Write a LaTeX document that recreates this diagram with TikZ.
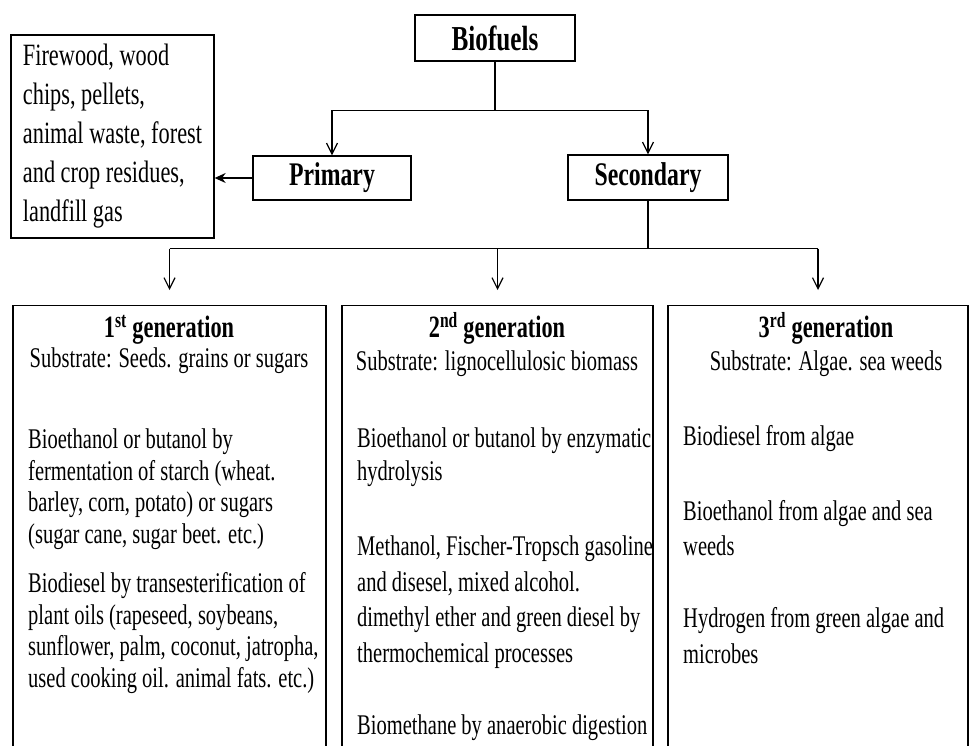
\documentclass[tikz,border=0pt]{standalone}
\usepackage{fontspec}
\setmainfont{Liberation Serif}[FakeStretch=0.72]
\usetikzlibrary{arrows.meta}

\tikzset{
  box/.style={draw, line width=1.3pt, inner sep=0pt, font=\bfseries\fontsize{33}{38}\selectfont},
  srcbox/.style={draw, line width=1.3pt, align=left, minimum width=203pt, minimum height=203pt,
    inner sep=0pt, font=\fontsize{31}{39}\selectfont},
  genbox/.style={draw, line width=1.2pt, anchor=north, minimum height=480pt, inner sep=0pt},
  genhead/.style={anchor=base, inner sep=0pt, font=\bfseries\fontsize{31}{36}\selectfont},
  gensub/.style={anchor=base, inner sep=0pt, font=\fontsize{28.5}{33}\selectfont},
  % anchored at the baseline of the last line
  genpara/.style={anchor=base west, align=left, inner sep=0pt, font=\fontsize{28.5}{#1}\selectfont},
  genpara/.default=33,
  conn/.style={line width=1.2pt},
  down/.style={conn, -{Straight Barb[length=11pt,width=11pt]}},
}

\begin{document}
\begin{tikzpicture}[x=1pt,y=-1pt]
  \useasboundingbox (0,0) rectangle (969,746);
  \clip (0,0) rectangle (969,746);

  % Top of the tree
  \node[box, minimum width=160pt, minimum height=46pt, font=\bfseries\fontsize{35}{40}\selectfont]
    (bio) at (495,38) {Biofuels};
  \node[box, minimum width=158pt, minimum height=44pt] (prim) at (332,178) {Primary};
  \node[box, minimum width=160pt, minimum height=45pt] (sec) at (648,177.5) {Secondary};
  \node[srcbox] (wood) at (112.5,136.5)
    {Firewood, wood\\ chips, pellets,\\ animal waste, forest\\ and crop residues,\\ landfill gas};

  % Generation boxes (open at the bottom)
  \node[genbox, minimum width=313pt] (gen1) at (169.5,305) {};
  \node[genbox, minimum width=311pt] (gen2) at (497.5,305) {};
  \node[genbox, minimum width=300pt] (gen3) at (818,305) {};

  % Connectors
  \draw[conn] (bio.south) -- ++(0,49) coordinate (bsplit);
  \draw[down] (bsplit) -| (prim.north);
  \draw[down] (bsplit) -| (sec.north);
  \draw[conn, -{Stealth[length=11pt,width=10pt]}] (prim.west) -- (prim.west -| wood.east);
  \draw[conn] (sec.south) -- ++(0,48) coordinate (ssplit);
  \draw[conn] (ssplit -| gen1.north) -- (ssplit -| gen3.north);
  \foreach \g in {gen1,gen2,gen3}
    \draw[down, shorten >=15pt] (ssplit -| \g.north) -- (\g.north);

  % 1st generation
  \node[genhead] (h1) at (169,337) {1\textsuperscript{st} generation};
  \node[gensub] (s1) at (169,367) {Substrate: Seeds. grains or sugars};
  \node[genpara=31.5] (p11) at (28,543)
    {Bioethanol or butanol by\\ fermentation of starch (wheat.\\ barley, corn, potato) or sugars\\ (sugar cane, sugar beet. etc.)};
  \node[genpara=31.5] (p12) at (28,687)
    {Biodiesel by transesterification of\\ plant oils (rapeseed, soybeans,\\ sunflower, palm, coconut, jatropha,\\ used cooking oil. animal fats. etc.)};

  % 2nd generation
  \node[genhead] (h2) at (497,337) {2\textsuperscript{nd} generation};
  \node[gensub] (s2) at (497,370) {Substrate: lignocellulosic biomass};
  \node[genpara=33] (p21) at (357,480) {Bioethanol or butanol by enzymatic\\ hydrolysis};
  \node[genpara=35.5] (p22) at (357,662)
    {Methanol, Fischer-Tropsch gasoline\\ and disesel, mixed alcohol.\\ dimethyl ether and green diesel by\\ thermochemical processes};
  \node[genpara] (p23) at (357,734) {Biomethane by anaerobic digestion};

  % 3rd generation
  \node[genhead] (h3) at (826,337) {3\textsuperscript{rd} generation};
  \node[gensub] (s3) at (826,370) {Substrate: Algae. sea weeds};
  \node[genpara] (p31) at (683,445) {Biodiesel from algae};
  \node[genpara=35] (p32) at (683,555) {Bioethanol from algae and sea\\ weeds};
  \node[genpara=36] (p33) at (683,663) {Hydrogen from green algae and\\ microbes};
\end{tikzpicture}
\end{document}
